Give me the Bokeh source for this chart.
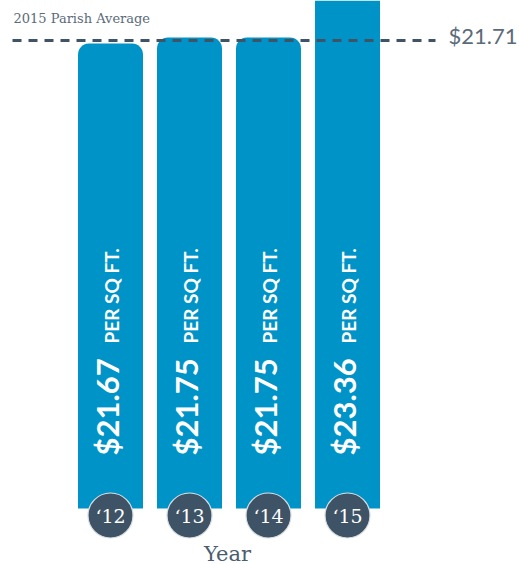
import math
from bokeh.plotting import figure
from bokeh.models import ColumnDataSource, Range1d, CDSView, IndexFilter
from bokeh.core.properties import value
from bokeh.embed import file_html
from bokeh.resources import INLINE

# ---- data ----
years = ["\u201812", "\u201813", "\u201814", "\u201815"]
prices = [21.67, 21.75, 21.75, 23.36]
price_labels = ["$21.67", "$21.75", "$21.75", "$23.36"]
unit_label = "PER SQ FT."
parish_avg = 21.71
parish_avg_label = "$21.71"
avg_title = "2015 Parish Average"
x_title = "Year"

# ---- layout constants ----
W, H = 519, 564
PX_X = 79.0          # px per category step
X0_PX = 110.0        # canvas x of first bar center
PX_Y = 75.0          # px per $ unit
TOP_VAL = prices[0] + 43 / PX_Y
y_top = TOP_VAL
y_bot = TOP_VAL - H / PX_Y
x_start = -X0_PX / PX_X
x_end = (W - X0_PX) / PX_X


def yv(canvas_y):
    return TOP_VAL - canvas_y / PX_Y


def xv(canvas_x):
    return (canvas_x - X0_PX) / PX_X


BASE = yv(508)

BLUE = "#0093c8"
SLATE = "#3e5366"
GREY_TXT = "#5b6b7a"

xs = list(range(len(years)))
src = ColumnDataSource(dict(x=xs, top=prices, year=years, plabel=price_labels,
                            unit=[unit_label] * len(xs)))

p = figure(width=W, height=H, output_backend="svg", toolbar_location=None,
           x_range=Range1d(x_start, x_end), y_range=Range1d(y_bot, y_top),
           min_border=0, min_border_left=0, min_border_right=0,
           min_border_top=0, min_border_bottom=0)
p.axis.visible = False
p.grid.visible = False
p.outline_line_color = None
p.background_fill_color = "white"
p.border_fill_color = "white"

bar_w = 65 / PX_X
inside = [i for i, v in enumerate(prices) if v <= y_top]
outside = [i for i, v in enumerate(prices) if v > y_top]
p.vbar(x="x", top="top", bottom=BASE, width=bar_w, source=src,
       view=CDSView(filter=IndexFilter(inside)),
       fill_color=BLUE, line_color=None, border_radius=(11, 11, 0, 0))
p.vbar(x="x", top="top", bottom=BASE, width=bar_w, source=src,
       view=CDSView(filter=IndexFilter(outside)),
       fill_color=BLUE, line_color=None)

# price labels rotated
p.text(x="x", y=yv(455), text="plabel", source=src, angle=math.pi / 2,
       x_offset=-3.5, text_align="left", text_baseline="alphabetic",
       text_font=value("Lato"), text_font_style="bold", text_font_size="31px",
       text_color="white")
p.text(x="x", y=yv(343), text="unit", source=src, angle=math.pi / 2,
       x_offset=0.5, text_align="left", text_baseline="alphabetic",
       text_font=value("Lato"), text_font_style="bold", text_font_size="19px",
       text_color="white")

# average dashed line
p.segment(x0=xv(12), x1=xv(435), y0=parish_avg, y1=parish_avg,
          line_color=SLATE, line_width=3, line_dash="9 7")
p.text(x=[xv(448)], y=[parish_avg], text=[parish_avg_label], y_offset=-5,
       text_align="left", text_baseline="middle",
       text_font=value("Lato"), text_font_size="22px", text_color=GREY_TXT)
p.text(x=[xv(13)], y=[parish_avg], text=[avg_title], y_offset=-22,
       text_align="left", text_baseline="middle",
       text_font=value("DejaVu Serif"), text_font_size="13px", text_color=GREY_TXT)

# year circles
p.scatter(x="x", y=yv(515), source=src, size=45, marker="circle",
          fill_color=SLATE, line_color="#d9dee3", line_width=1.2)
p.text(x="x", y=yv(515), text="year", source=src, text_align="center",
       text_baseline="middle", text_font=value("DejaVu Serif"),
       text_font_size="19px", text_color="white")

p.text(x=[xv(227)], y=[yv(553)], text=[x_title], text_align="center",
       text_baseline="middle", text_font=value("DejaVu Serif"),
       text_font_size="21px", text_color="#4a5d6e")

open("out.html", "w").write(file_html(p, INLINE))
